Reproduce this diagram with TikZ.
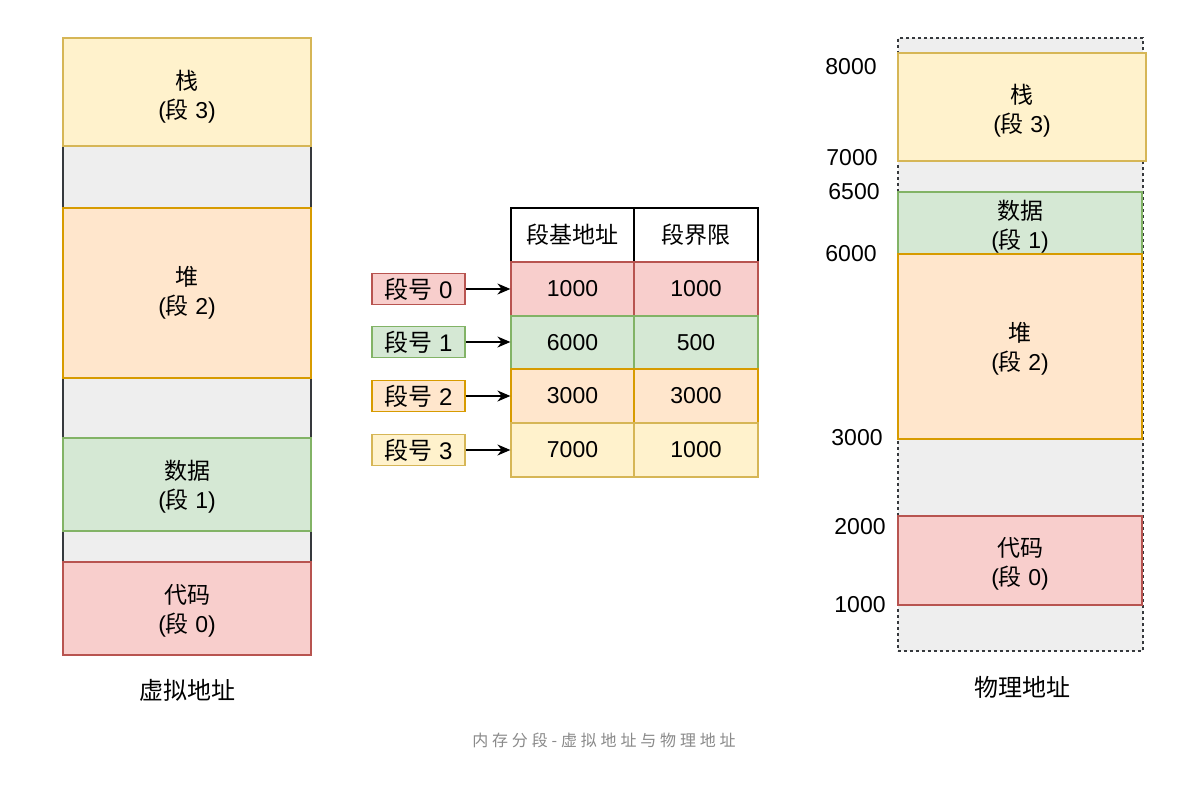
\documentclass[tikz,border=0pt]{standalone}
\usepackage{fontspec}
\setmainfont{Liberation Sans}
\newfontfamily\cjk{Noto Sans CJK SC}
\newcommand\zh[1]{{\cjk #1}}
\usetikzlibrary{arrows.meta}
\definecolor{yfill}{HTML}{FFF2CC}\definecolor{ydraw}{HTML}{D6B656}
\definecolor{ofill}{HTML}{FFE6CC}\definecolor{odraw}{HTML}{D79B00}
\definecolor{gfill}{HTML}{D5E8D4}\definecolor{gdraw}{HTML}{82B366}
\definecolor{rfill}{HTML}{F8CECC}\definecolor{rdraw}{HTML}{B85450}
\definecolor{nfill}{HTML}{EEEEEE}\definecolor{ndraw}{HTML}{36393D}
\definecolor{captc}{HTML}{8A8A8A}
\tikzset{
  box/.style={rectangle, inner sep=0pt, line width=1.2pt, align=center,
    font=\fontsize{23}{29}\selectfont},
  ybox/.style={box, fill=yfill, draw=ydraw},
  obox/.style={box, fill=ofill, draw=odraw},
  gbox/.style={box, fill=gfill, draw=gdraw},
  rbox/.style={box, fill=rfill, draw=rdraw},
  nbox/.style={box, fill=nfill, draw=ndraw},
  hbox/.style={box, fill=white, draw=black},
  txt/.style={inner sep=0pt, align=center, font=\fontsize{23}{29}\selectfont},
  lab/.style={font=\fontsize{24}{29}\selectfont},
  addr/.style={font=\fontsize{23}{28}\selectfont, inner sep=0pt},
  title/.style={font=\fontsize{24}{28}\selectfont, inner sep=0pt},
  arr/.style={line width=1.6pt, -{Stealth[length=13pt,width=11pt]}},
}
\begin{document}
\begin{tikzpicture}[x=1pt,y=-1pt]
\useasboundingbox[fill=white] (0,0) rectangle (1182,787);
% virtual address column
\node[nbox, minimum width=248pt, minimum height=617pt] (vgray) at (187,346.5) {};
\node[ybox, minimum width=248pt, minimum height=108pt] (vstack) at (187,92) {};
\node[obox, minimum width=248pt, minimum height=170pt] (vheap) at (187,293) {};
\node[gbox, minimum width=248pt, minimum height=93pt] (vdata) at (187,484.5) {};
\node[rbox, minimum width=248pt, minimum height=93pt] (vcode) at (187,608.5) {};
\node[txt] (vstackt) at ([yshift=-5pt]vstack.center) {\zh{栈}\\(\zh{段} 3)};
\node[txt] (vheapt) at ([yshift=0pt]vheap.center) {\zh{堆}\\(\zh{段} 2)};
\node[txt] (vdatat) at ([yshift=-2pt]vdata.center) {\zh{数据}\\(\zh{段} 1)};
\node[txt] (vcodet) at ([yshift=-2.5pt]vcode.center) {\zh{代码}\\(\zh{段} 0)};
\node[title] (vlabel) at (187,690) {\zh{虚拟地址}};
% table
\node[hbox, minimum width=123pt, minimum height=54pt] (h1) at (572.5,235) {\zh{段基地址}};
\node[hbox, minimum width=124pt, minimum height=54pt] (h2) at (696,235) {\zh{段界限}};
\node[rbox, minimum width=123pt, minimum height=54pt] (r0a) at (572.5,289) {1000};
\node[rbox, minimum width=124pt, minimum height=54pt] (r0b) at (696,289) {1000};
\node[gbox, minimum width=123pt, minimum height=53pt] (r1a) at (572.5,342.5) {6000};
\node[gbox, minimum width=124pt, minimum height=53pt] (r1b) at (696,342.5) {500};
\node[obox, minimum width=123pt, minimum height=54pt] (r2a) at (572.5,396) {3000};
\node[obox, minimum width=124pt, minimum height=54pt] (r2b) at (696,396) {3000};
\node[ybox, minimum width=123pt, minimum height=54pt] (r3a) at (572.5,450) {7000};
\node[ybox, minimum width=124pt, minimum height=54pt] (r3b) at (696,450) {1000};
% segment number labels
\node[rbox, lab, minimum width=93pt, minimum height=31pt] (s0) at (418.5,289) {\zh{段号} 0};
\node[gbox, lab, minimum width=93pt, minimum height=31pt] (s1) at (418.5,342) {\zh{段号} 1};
\node[obox, lab, minimum width=93pt, minimum height=31pt] (s2) at (418.5,396) {\zh{段号} 2};
\node[ybox, lab, minimum width=93pt, minimum height=31pt] (s3) at (418.5,450) {\zh{段号} 3};
\draw[arr] (s0.east) -- (s0.east -| r0a.west);
\draw[arr] (s1.east) -- (s1.east -| r1a.west);
\draw[arr] (s2.east) -- (s2.east -| r2a.west);
\draw[arr] (s3.east) -- (s3.east -| r3a.west);
% physical address column
\node[nbox, dashed, minimum width=245pt, minimum height=613pt] (pgray) at (1020.5,344.5) {};
\node[ybox, minimum width=248pt, minimum height=108pt] (pstack) at (1022,107) {};
\node[gbox, minimum width=244pt, minimum height=62pt] (pdata) at (1020,223) {};
\node[obox, minimum width=244pt, minimum height=185pt] (pheap) at (1020,346.5) {};
\node[rbox, minimum width=244pt, minimum height=89pt] (pcode) at (1020,560.5) {};
\node[txt] (pstackt) at ([yshift=-3.5pt]pstack.center) {\zh{栈}\\(\zh{段} 3)};
\node[txt] (pdatat) at ([yshift=-4pt]pdata.center) {\zh{数据}\\(\zh{段} 1)};
\node[txt] (pheapt) at ([yshift=-2.5pt]pheap.center) {\zh{堆}\\(\zh{段} 2)};
\node[txt] (pcodet) at ([yshift=-3pt]pcode.center) {\zh{代码}\\(\zh{段} 0)};
\node[addr] (a8000) at (851,67) {8000};
\node[addr] (a7000) at (852,158) {7000};
\node[addr] (a6500) at (854,192) {6500};
\node[addr] (a6000) at (851,254) {6000};
\node[addr] (a3000) at (857,438) {3000};
\node[addr] (a2000) at (860,527) {2000};
\node[addr] (a1000) at (860,605) {1000};
\node[title] (plabel) at (1022,687) {\zh{物理地址}};
% caption
\node[font=\fontsize{16}{18}\selectfont, text=captc, inner sep=0pt] (cap) at (604,740)
  {\cjk\addfontfeatures{LetterSpace=24}内存分段-虚拟地址与物理地址};
\end{tikzpicture}
\end{document}
